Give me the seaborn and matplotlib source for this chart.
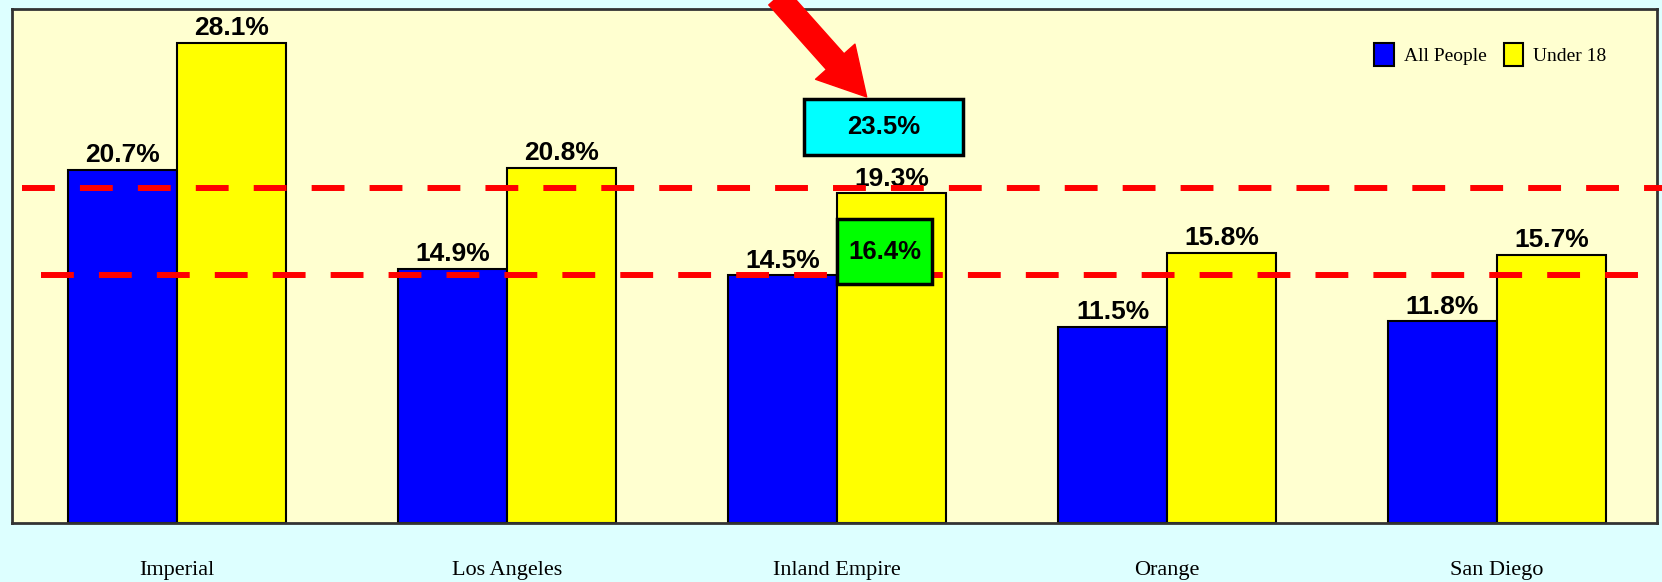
import pandas as pd
import matplotlib
matplotlib.use("Agg")
import matplotlib.pyplot as plt
from matplotlib.patches import Rectangle
import seaborn as sns

# data
regions = ["Imperial", "Los Angeles", "Inland Empire", "Orange", "San Diego"]
all_people = [20.7, 14.9, 14.5, 11.5, 11.8]
under_18 = [28.1, 20.8, 19.3, 15.8, 15.7]
ref_lines = [19.6, 14.5]
callout_top = "23.5%"
callout_mid = "16.4%"

df = pd.DataFrame({
    "region": regions * 2,
    "group": ["All People"] * len(regions) + ["Under 18"] * len(regions),
    "pct": all_people + under_18,
})

sns.set_style("white")
plt.rcParams["font.family"] = ["Liberation Sans", "DejaVu Sans"]
plt.rcParams["text.color"] = "black"
plt.rcParams["xtick.color"] = "black"

fig = plt.figure(figsize=(16.62, 5.82), dpi=100, facecolor="#DDFFFF")
ax = fig.add_axes([12 / 1662, 59 / 582, 1645 / 1662, 514 / 582])
ax.set_facecolor("#FFFFD0")

sns.barplot(data=df, x="region", y="pct", hue="group", order=regions,
            palette={"All People": "#0000FF", "Under 18": "#FFFF00"},
            saturation=1, width=0.66, gap=0, edgecolor="black", linewidth=1.5,
            errorbar=None, ax=ax)

ax.set_xlim(-0.5, 4.485)
ax.set_ylim(0, 30.1)
ax.set_xlabel("")
ax.set_ylabel("")
ax.set_yticks([])
ax.tick_params(axis="x", length=0, pad=27)
for lab in ax.get_xticklabels():
    lab.set_fontfamily(["Liberation Serif", "DejaVu Serif"])
    lab.set_fontsize(16)
for s in ax.spines.values():
    s.set_color("#333333")
    s.set_linewidth(2)

# value labels on top of bars
for cont in ax.containers:
    ax.bar_label(cont, fmt="%.1f%%", padding=2, fontsize=19, fontweight="bold",
                 color="black", zorder=3)

# red dashed reference lines
ax.axhline(ref_lines[0], xmin=10 / 1645, xmax=1.005, color="red", lw=4.3,
           ls=(0, (5.5, 4.2)), zorder=4, clip_on=False)
ax.axhline(ref_lines[1], xmin=29 / 1645, xmax=1627 / 1645, color="red", lw=4.3,
           ls=(0, (5.5, 4.2)), zorder=4, clip_on=False)

# callout boxes
ax.add_patch(Rectangle((1.9, 21.55), 0.482, 3.27, fc="#00FFFF", ec="black",
                       lw=2.5, zorder=5))
ax.text(2.141, 23.2, callout_top, ha="center", va="center", fontsize=18.5,
        fontweight="bold", zorder=6)
ax.add_patch(Rectangle((2.0, 13.99), 0.288, 3.8, fc="#00FF00", ec="black",
                       lw=2.5, zorder=5))
ax.text(2.144, 15.87, callout_mid, ha="center", va="center", fontsize=18.5,
        fontweight="bold", zorder=6)

# red arrow pointing at the top box
ax.annotate("", xy=(2.09, 24.95), xytext=(1.82, 30.8),
            arrowprops=dict(arrowstyle="simple,head_length=1.7,head_width=1.9,tail_width=0.85",
                            fc="red", ec="red", mutation_scale=20, shrinkA=0, shrinkB=0),
            annotation_clip=False, zorder=7)

ax.legend(loc="upper right", bbox_to_anchor=(1604 / 1645, 1 - 24 / 514),
          ncol=2, frameon=False, handlelength=1.0, handleheight=1.45,
          handletextpad=0.5, columnspacing=0.9, borderpad=0, labelcolor="black",
          prop={"family": ["Liberation Serif", "DejaVu Serif"], "size": 14})

fig.savefig("out.png", dpi=100, facecolor=fig.get_facecolor())
